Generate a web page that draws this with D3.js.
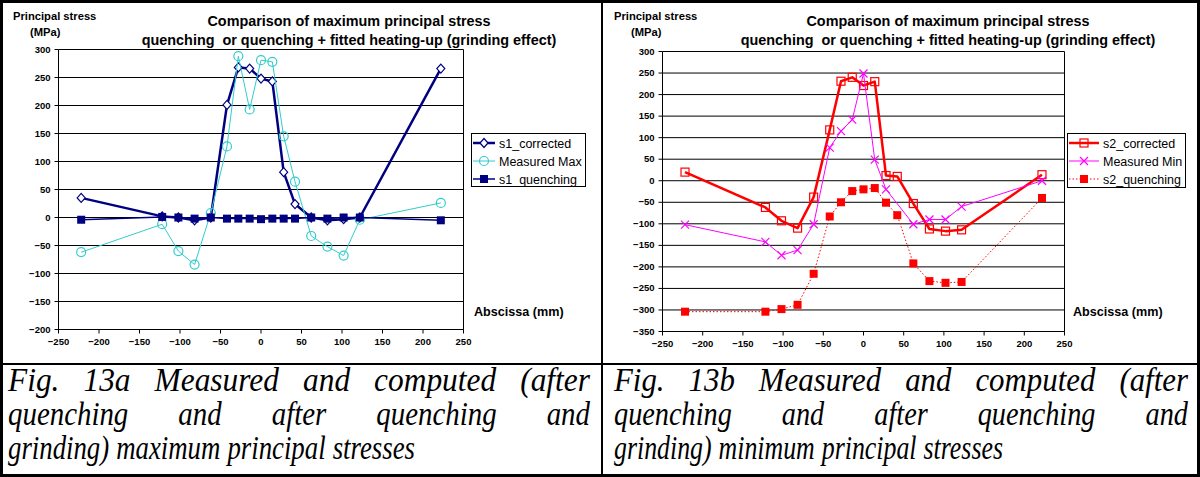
<!DOCTYPE html>
<html lang="en">
<head>
<meta charset="UTF-8">
<title>Principal stress comparison</title>
<script src="https://d3js.org/d3.v7.min.js"></script>
<style>
  body { margin: 0; background: #fff; }
  svg { display: block; }
  .pre { white-space: pre; }
</style>
</head>
<body>
<svg id="fig" width="1200" height="477"></svg>
<script>
// ---- data ----
const xTicks = [-250, -200, -150, -100, -50, 0, 50, 100, 150, 200, 250];
const yTicksA = [-200, -150, -100, -50, 0, 50, 100, 150, 200, 250, 300];
const yTicksB = [-350, -300, -250, -200, -150, -100, -50, 0, 50, 100, 150, 200, 250, 300];

// Fig 13a (maximum principal stress)
const absA = [-222, -122, -102, -82, -62, -42, -28, -14, 0, 14, 28, 42, 62, 82, 102, 122, 222];
const s1Corrected = [35, 2, 0, -5, 0, 201, 268, 266, 248, 243, 81, 24, 0, -5, -3, 0, 266];
const measuredMax = [-62, -12, -60, -84, 8, 127, 288, 193, 281, 278, 145, 64, -33, -52, -68, -4, 26];
const s1Quenching = [-4, 1, 0, -2, 0, -2, -2, -2, -3, -2, -2, -2, 0, -2, 0, 0, -5];

// Fig 13b (minimum principal stress)
const absB = [-222, -122, -102, -82, -62, -42, -28, -14, 0, 14, 28, 42, 62, 82, 102, 122, 222];
const s2Corrected = [20, -62, -93, -110, -38, 118, 231, 240, 221, 230, 12, 10, -53, -112, -117, -114, 14];
const absMinMeas = [-222, -122, -102, -82, -62, -42, -28, -14, 0, 14, 28, 62, 82, 102, 122, 222];
const measuredMin = [-102, -142, -173, -161, -101, 77, 115, 142, 249, 49, -20, -101, -90, -90, -60, 0];
const s2Quenching = [-304, -304, -298, -288, -216, -83, -50, -24, -20, -17, -51, -80, -192, -233, -237, -235, -40];

const titleLines = ["Comparison of maximum principal stress",
                    "quenching  or quenching + fitted heating-up (grinding effect)"];
const captionA = ["Fig. 13a Measured and computed (after",
                  "quenching and after quenching and",
                  "grinding) maximum principal stresses"];
const captionB = ["Fig. 13b Measured and computed (after",
                  "quenching and after quenching and",
                  "grinding) minimum principal stresses"];

const sans = "'Liberation Sans', Arial, sans-serif";
const serif = "'Liberation Serif', 'Times New Roman', serif";
const svg = d3.select("#fig");

function marker(g, type, color) {
  if (type === "diamond") {
    g.append("path").attr("d", "M0,-4.5L4,0L0,4.5L-4,0Z")
      .attr("fill", "#fff").attr("stroke", color).attr("stroke-width", 1.2);
  } else if (type === "circle") {
    g.append("circle").attr("r", 4.5).attr("fill", "none")
      .attr("stroke", color).attr("stroke-width", 1.2);
  } else if (type === "fsquare") {
    g.append("rect").attr("x", -4).attr("y", -4).attr("width", 8).attr("height", 8)
      .attr("fill", color);
  } else if (type === "osquare") {
    g.append("rect").attr("x", -4).attr("y", -4).attr("width", 8).attr("height", 8)
      .attr("fill", "none").attr("stroke", color).attr("stroke-width", 1.2);
  } else if (type === "cross") {
    g.append("path").attr("d", "M-4,-4L4,4M-4,4L4,-4")
      .attr("stroke", color).attr("stroke-width", 1.2);
  }
}

function drawPanel(p) {
  const g = svg.append("g");
  const x = d3.scaleLinear().domain([-250, 250]).range([p.x0, p.x1]);
  const y = d3.scaleLinear().domain([p.yTicks[0], p.yTicks[p.yTicks.length - 1]]).range([p.y1, p.y0]);

  // gridlines + right border
  g.append("g").selectAll("line").data(p.yTicks).join("line")
    .attr("x1", p.x0).attr("x2", p.x1)
    .attr("y1", d => y(d)).attr("y2", d => y(d))
    .attr("stroke", "#000").attr("stroke-width", 1);
  g.append("line").attr("x1", p.x1).attr("x2", p.x1).attr("y1", p.y0).attr("y2", p.y1)
    .attr("stroke", "#000");

  const ya = g.append("g").attr("transform", `translate(${p.x0},0)`)
    .call(d3.axisLeft(y).tickValues(p.yTicks).tickSize(4).tickSizeOuter(0).tickPadding(4).offset(0));
  const xa = g.append("g").attr("transform", `translate(0,${p.y1})`)
    .call(d3.axisBottom(x).tickValues(xTicks).tickSize(4).tickSizeOuter(0).tickPadding(5).offset(0));
  [ya, xa].forEach(a => {
    a.attr("font-family", sans).attr("font-size", 9.5).attr("font-weight", "bold");
    a.selectAll("path,line").attr("stroke", "#000");
    a.selectAll("text").attr("fill", "#000");
  });

  // series
  p.series.forEach(s => {
    const pts = s.xs.map((v, i) => [x(v), y(s.ys[i])]);
    g.append("path").attr("d", d3.line()(pts))
      .attr("fill", "none").attr("stroke", s.color).attr("stroke-width", s.width)
      .attr("stroke-dasharray", s.dash || null).attr("stroke-linejoin", "round");
    pts.forEach(pt => marker(g.append("g").attr("transform", `translate(${pt[0]},${pt[1]})`), s.marker, s.color));
  });

  // titles and labels
  const t = g.append("g").attr("font-family", sans).attr("font-weight", "bold").attr("fill", "#000");
  t.append("text").attr("x", p.titleX).attr("y", 26).attr("text-anchor", "middle")
    .attr("font-size", 14.4).text(titleLines[0]);
  t.append("text").attr("class", "pre").attr("x", p.titleX).attr("y", 45).attr("text-anchor", "middle")
    .attr("font-size", 14.4).text(titleLines[1]);
  t.append("text").attr("x", p.labX).attr("y", 20).attr("font-size", 11.2).text("Principal stress");
  t.append("text").attr("x", p.labX + 17).attr("y", 36).attr("font-size", 11.2).text("(MPa)");
  t.append("text").attr("x", p.absX).attr("y", 316).attr("font-size", 12.6).text("Abscissa (mm)");

  // legend
  const L = p.legend;
  const lg = g.append("g");
  lg.append("rect").attr("x", L.x + 0.5).attr("y", L.y + 0.5).attr("width", L.w).attr("height", L.h)
    .attr("fill", "#fff").attr("stroke", "#000").attr("stroke-width", 1);
  p.series.forEach((s, i) => {
    const cy = L.y + 10 + i * 18;
    lg.append("line").attr("x1", L.x + 2).attr("x2", L.x + 2 + L.line).attr("y1", cy).attr("y2", cy)
      .attr("stroke", s.color).attr("stroke-width", s.width).attr("stroke-dasharray", s.dash || null);
    marker(lg.append("g").attr("transform", `translate(${L.x + 2 + L.line / 2},${cy})`), s.marker, s.color);
    lg.append("text").attr("x", L.x + L.line + 6).attr("y", cy + 4.5)
      .attr("font-family", sans).attr("font-size", 12.5).attr("fill", "#000").text(s.name);
  });
}

drawPanel({
  x0: 58.5, x1: 463.5, y0: 49.5, y1: 329.5, yTicks: yTicksA,
  titleX: 349, labX: 13, absX: 474,
  legend: {x: 471, y: 133, w: 114, h: 53, line: 22},
  series: [
    {name: "s1_corrected", xs: absA, ys: s1Corrected, color: "#000080", width: 2.5, marker: "diamond"},
    {name: "Measured Max", xs: absA, ys: measuredMax, color: "#33CCCC", width: 1, marker: "circle"},
    {name: "s1_quenching", xs: absA, ys: s1Quenching, color: "#000080", width: 1.5, marker: "fsquare"}
  ]
});

drawPanel({
  x0: 662.5, x1: 1064.5, y0: 51.5, y1: 331.5, yTicks: yTicksB,
  titleX: 948, labX: 614, absX: 1073,
  legend: {x: 1067, y: 133, w: 118, h: 54, line: 30},
  series: [
    {name: "s2_corrected", xs: absB, ys: s2Corrected, color: "#FF0000", width: 2.5, marker: "osquare"},
    {name: "Measured Min", xs: absMinMeas, ys: measuredMin, color: "#FF00FF", width: 1, marker: "cross"},
    {name: "s2_quenching", xs: absB, ys: s2Quenching, color: "#FF0000", width: 1, marker: "fsquare", dash: "1.5,2"}
  ]
});

// captions: words laid out on justified lines, condensed italic serif
function caption(lines, x0, x1, lastEnd) {
  const fs = 33;
  const baselines = [391, 425, 459];
  const gaps = [24, 50, 7];
  lines.forEach((line, li) => {
    const g = svg.append("g").attr("font-family", serif).attr("font-style", "italic")
      .attr("font-size", fs).attr("fill", "#000");
    const words = line.split(" ");
    const nodes = words.map(w => g.append("text").attr("y", 0).text(w));
    const widths = nodes.map(n => n.node().getComputedTextLength());
    const full = (li === lines.length - 1 ? lastEnd : x1) - x0;
    const sx = (full - gaps[li] * (words.length - 1)) / d3.sum(widths);
    g.attr("transform", `translate(${x0},${baselines[li]}) scale(${sx},1)`);
    const gap = gaps[li] / sx;
    let cx = 0;
    nodes.forEach((n, i) => { n.attr("x", cx); cx += widths[i] + gap; });
  });
}
caption(captionA, 8, 590, 415);
caption(captionB, 614, 1188, 1003);

// table borders
svg.append("rect").attr("x", 1.5).attr("y", 1.5).attr("width", 1197).attr("height", 474)
  .attr("fill", "none").attr("stroke", "#000").attr("stroke-width", 3);
svg.append("line").attr("x1", 602).attr("x2", 602).attr("y1", 0).attr("y2", 477)
  .attr("stroke", "#000").attr("stroke-width", 2);
svg.append("line").attr("x1", 0).attr("x2", 1200).attr("y1", 364).attr("y2", 364)
  .attr("stroke", "#000").attr("stroke-width", 2);
</script>
</body>
</html>
